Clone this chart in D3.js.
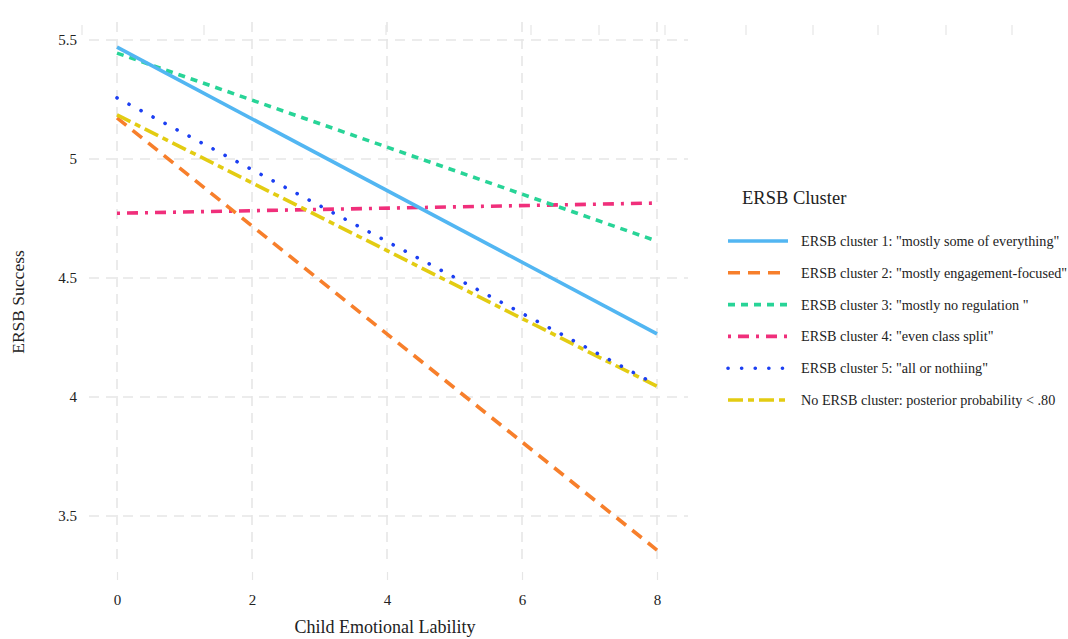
<!DOCTYPE html>
<html>
<head>
<meta charset="utf-8">
<script src="https://cdn.jsdelivr.net/npm/d3@7/dist/d3.min.js"></script>
<style>
body { margin: 0; background: #fff; }
text { font-family: "Liberation Serif", "DejaVu Serif", serif; fill: #222; }
.grid line { stroke: #e6e6e6; stroke-width: 1.6px; stroke-dasharray: 10,7; }
</style>
</head>
<body>
<script>

// data: endpoints of each fitted line at x = 0 and x = 8
var seriesNames = [
  'ERSB cluster 1: "mostly some of everything"',
  'ERSB cluster 2: "mostly engagement-focused"',
  'ERSB cluster 3: "mostly no regulation "',
  'ERSB cluster 4: "even class split"',
  'ERSB cluster 5: "all or nothiing"',
  'No ERSB cluster: posterior probability < .80'
];
var xValues = [0, 8];
var yAtStart = [5.47, 5.173, 5.445, 4.772, 5.257, 5.185];
var yAtEnd = [4.265, 3.357, 4.655, 4.815, 4.050, 4.045];
var xTicks = [0, 2, 4, 6, 8];
var yTicks = [3.5, 4, 4.5, 5, 5.5];

var colors = ["#52b6f2", "#f77f2b", "#28d497", "#f02f7b", "#1c3ff2", "#e3cc12"];
var dashes = ["none", "12,8", "7,6", "3,7,11,7", "0.1,13.5", "15,5,6,5"];
var caps = ["butt", "butt", "butt", "butt", "round", "butt"];

var width = 1068, height = 639;

var svg = d3.select("body").append("svg")
    .attr("width", width)
    .attr("height", height);

var x = d3.scaleLinear().domain([0, 8]).range([117, 657]);
var y = d3.scaleLinear().domain([3.5, 5.5]).range([516, 40]);

// faint tick marks along the top edge
var topMarks = [82, 204, 386, 531, 599, 665, 746, 813, 878, 946, 1012];
svg.append("g").selectAll("line")
    .data(topMarks)
    .enter().append("line")
    .attr("x1", function(d) { return d; })
    .attr("x2", function(d) { return d; })
    .attr("y1", 25)
    .attr("y2", 35)
    .style("stroke", "#e6e6e6")
    .style("stroke-width", 1.2);

// grid
var grid = svg.append("g").attr("class", "grid");
grid.selectAll(".vg")
    .data(xTicks)
    .enter().append("line")
    .attr("class", "vg")
    .attr("x1", function(d) { return x(d); })
    .attr("x2", function(d) { return x(d); })
    .attr("y1", 22)
    .attr("y2", 566);
grid.selectAll(".hg")
    .data(yTicks)
    .enter().append("line")
    .attr("class", "hg")
    .attr("x1", 89)
    .attr("x2", 688)
    .attr("y1", function(d) { return y(d); })
    .attr("y2", function(d) { return y(d); });

// x axis
var xAxis = svg.append("g")
    .attr("transform", "translate(0,572)")
    .call(d3.axisBottom(x).tickValues(xTicks).tickSize(8).tickPadding(14).tickFormat(d3.format("d")));
xAxis.select(".domain").remove();
xAxis.selectAll(".tick line").style("stroke", "#e6e6e6").style("stroke-width", 1.2);
xAxis.selectAll("text").style("font-size", "15px").style("fill", "#222");

// y axis
var yAxis = svg.append("g")
    .attr("transform", "translate(88,0)")
    .call(d3.axisLeft(y).tickValues(yTicks).tickSize(0).tickPadding(11)
        .tickFormat(function(d) { return d % 1 === 0 ? d3.format("d")(d) : d3.format(".1f")(d); }));
yAxis.select(".domain").remove();
yAxis.selectAll("text").style("font-size", "15px").style("fill", "#222");

// axis titles
svg.append("text")
    .attr("x", x(4) - 2)
    .attr("y", 633)
    .attr("text-anchor", "middle")
    .style("font-size", "18px")
    .text("Child Emotional Lability");

svg.append("text")
    .attr("transform", "translate(24,302) rotate(-90)")
    .attr("text-anchor", "middle")
    .style("font-size", "17.5px")
    .text("ERSB Success");

// lines
var rows = seriesNames.map(function(name, i) {
  return {
    name: name,
    points: [[xValues[0], yAtStart[i]], [xValues[1], yAtEnd[i]]],
    color: colors[i],
    dash: dashes[i],
    cap: caps[i]
  };
});

var line = d3.line()
    .x(function(d) { return x(d[0]); })
    .y(function(d) { return y(d[1]); });

// draw in an order so the solid blue sits on top like the original
var drawOrder = [3, 2, 1, 5, 4, 0];
svg.append("g").selectAll("path")
    .data(drawOrder.map(function(i) { return rows[i]; }))
    .enter().append("path")
    .attr("d", function(d) { return line(d.points); })
    .style("fill", "none")
    .style("stroke", function(d) { return d.color; })
    .style("stroke-width", 3.6)
    .style("stroke-dasharray", function(d) { return d.dash; })
    .style("stroke-linecap", function(d) { return d.cap; });

// legend
var legend = svg.append("g");
legend.append("text")
    .attr("x", 742)
    .attr("y", 204)
    .style("font-size", "18.5px")
    .text("ERSB Cluster");

var item = legend.selectAll(".item")
    .data(rows)
    .enter().append("g")
    .attr("class", "item")
    .attr("transform", function(d, i) { return "translate(0," + (241 + i * 31.8) + ")"; });

item.append("line")
    .attr("x1", 728)
    .attr("x2", 788)
    .attr("y1", 0)
    .attr("y2", 0)
    .style("stroke", function(d) { return d.color; })
    .style("stroke-width", 3.6)
    .style("stroke-dasharray", function(d) { return d.dash; })
    .style("stroke-linecap", function(d) { return d.cap; });

item.append("text")
    .attr("x", 801)
    .attr("y", 5)
    .style("font-size", "14.2px")
    .text(function(d) { return d.name; });

</script>
</body>
</html>
